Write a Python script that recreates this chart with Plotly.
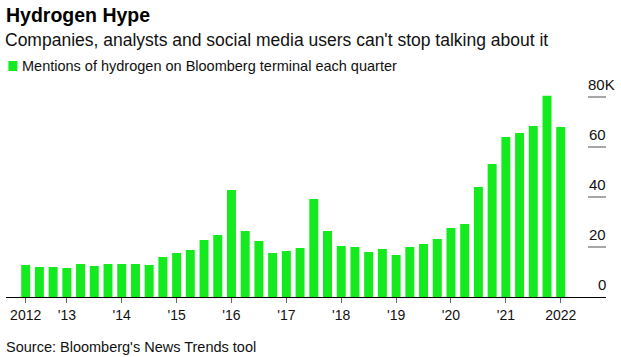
import plotly.graph_objects as go

# Quarterly mentions (thousands), 2012 Q1 .. 2021 Q4
quarters = [f"{y} Q{q}" for y in range(2012, 2022) for q in range(1, 5)]
mentions_k = [12.8, 12.0, 12.0, 11.6, 13.2, 12.4, 13.2, 13.2, 13.2, 12.8,
              16.0, 17.6, 18.8, 22.8, 24.8, 42.8, 26.4, 22.4, 17.6, 18.4,
              19.6, 39.2, 26.4, 20.4, 20.0, 18.0, 19.2, 16.8, 20.0, 21.2,
              23.2, 27.6, 29.2, 44.0, 53.2, 64.0, 65.6, 68.4, 80.5, 68.0]

x_tick_vals = ["2012 Q1", "2012 Q4", "2013 Q4", "2014 Q4", "2015 Q4", "2016 Q4",
               "2017 Q4", "2018 Q4", "2019 Q4", "2020 Q4", "2021 Q4"]
x_tick_text = ["2012", "'13", "'14", "'15", "'16", "'17", "'18", "'19", "'20", "'21", "2022"]

y_tick_vals = [0, 20, 40, 60, 80]
y_tick_text = ["0", "20", "40", "60", "80K"]

GREEN = "#14eb1e"
FONT = "Liberation Sans, Arial, sans-serif"

W, H = 621, 357
L, R, T, B = 6, 15, 80, 60
plot_h = H - T - B


def py(ypix):
    return (H - B - ypix) / plot_h


fig = go.Figure()
fig.add_trace(go.Bar(
    x=quarters, y=mentions_k,
    marker=dict(color=GREEN, line=dict(width=0)),
    name="Mentions of hydrogen on Bloomberg terminal each quarter",
    hovertemplate="%{x}: %{y}K<extra></extra>",
))

shapes = []
annotations = []

# y tick marks (short lines on the right) and labels
for v, t in zip(y_tick_vals, y_tick_text):
    if v != 0:
        shapes.append(dict(type="line", xref="paper", yref="y",
                           x0=0.97, x1=1.0, y0=v, y1=v,
                           line=dict(color="#8a8a8a", width=1.5)))
    if t.endswith("K"):
        annotations.append(dict(xref="paper", yref="y", x=0.97, y=v, text=t,
                                showarrow=False, xanchor="left", yanchor="bottom",
                                yshift=2, xshift=-2, font=dict(size=15, color="#111", family=FONT)))
    else:
        annotations.append(dict(xref="paper", yref="y", x=1.0, y=v, text=t,
                                showarrow=False, xanchor="right", yanchor="bottom",
                                yshift=2, xshift=2, font=dict(size=15, color="#111", family=FONT)))

# Title, subtitle, legend, source
annotations += [
    dict(xref="paper", yref="paper", x=0, y=py(15), text="<b>Hydrogen Hype</b>",
         showarrow=False, xanchor="left", yanchor="middle", xshift=-2,
         font=dict(size=19.5, color="#000", family=FONT)),
    dict(xref="paper", yref="paper", x=0, y=py(40), text="Companies, analysts and social media users can't stop talking about it",
         showarrow=False, xanchor="left", yanchor="middle", xshift=-3,
         font=dict(size=17.5, color="#111", family=FONT)),
    dict(xref="paper", yref="paper", x=0, y=py(66), text="Mentions of hydrogen on Bloomberg terminal each quarter",
         showarrow=False, xanchor="left", yanchor="middle", xshift=14,
         font=dict(size=14.5, color="#111", family=FONT)),
    dict(xref="paper", yref="paper", x=0, y=py(347), text="Source: Bloomberg's News Trends tool",
         showarrow=False, xanchor="left", yanchor="middle", xshift=-2,
         font=dict(size=14.5, color="#111", family=FONT)),
]
shapes.append(dict(type="rect", xref="paper", yref="paper",
                   x0=0.004, x1=0.004 + 9 / 600, y0=py(71), y1=py(61),
                   fillcolor=GREEN, line=dict(width=0)))

fig.update_layout(
    width=W, height=H,
    margin=dict(l=L, r=R, t=T, b=B),
    paper_bgcolor="white", plot_bgcolor="white",
    showlegend=False,
    bargap=0.345,
    font=dict(family=FONT, size=14, color="#111"),
    xaxis=dict(
        type="category", categoryorder="array", categoryarray=quarters,
        range=[-1.435, 42.3],
        tickmode="array", tickvals=x_tick_vals, ticktext=x_tick_text,
        ticks="outside", ticklen=5, tickcolor="#666", tickwidth=1,
        showline=True, linecolor="#000", linewidth=1.3,
        showgrid=False, zeroline=False,
        tickfont=dict(size=14, color="#111", family=FONT),
        fixedrange=True,
    ),
    yaxis=dict(
        range=[0, plot_h / 2.5],
        showticklabels=False, showgrid=False, zeroline=False, ticks="",
        fixedrange=True,
    ),
    shapes=shapes,
    annotations=annotations,
)

fig.write_html(
    "out.html",
    config={"displayModeBar": False},
    post_script="document.body.style.margin='0';document.body.style.overflow='hidden';",
)
